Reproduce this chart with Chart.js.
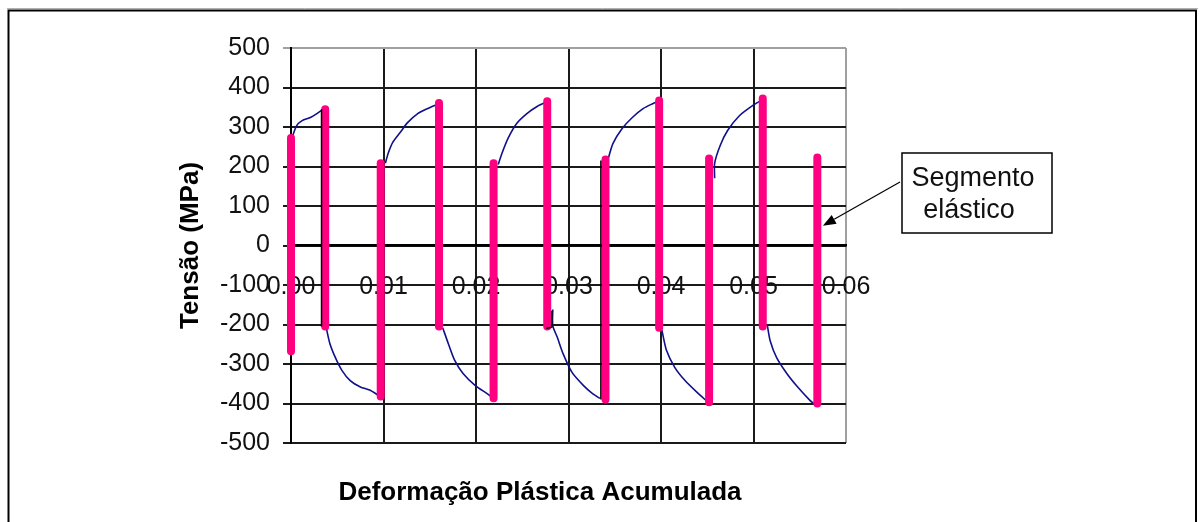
<!DOCTYPE html>
<html>
<head>
<meta charset="utf-8">
<script src="https://cdn.jsdelivr.net/npm/chart.js@4/dist/chart.umd.min.js"></script>
<style>
  html, body { margin: 0; padding: 0; background: #fff; }
  canvas { display: block; }
</style>
</head>
<body>
<canvas id="c" width="1204" height="522"></canvas>
<script>
// Elastic segments (unloading / reloading): strain, upper and lower stress in MPa
const elasticStrain = [0.0000, 0.0037, 0.0097, 0.0160, 0.0219, 0.0277, 0.0340, 0.0398, 0.0452, 0.0510, 0.0569];
const elasticTop    = [272, 345, 208, 361, 208, 365, 218, 367, 220, 372, 223];
const elasticBottom = [-268, -205, -382, -205, -387, -205, -390, -208, -397, -205, -400];

// Plastic branches, one list per half-cycle (tension, compression, ...)
const plasticStrain = [
  [0.0001, 0.0006, 0.0012, 0.0021, 0.0028, 0.0035],
  [0.0038, 0.0042, 0.0048, 0.0055, 0.0064, 0.0075, 0.0085, 0.0095],
  [0.0102, 0.0105, 0.0110, 0.0118, 0.0126, 0.0137, 0.0148, 0.0159],
  [0.0164, 0.0170, 0.0177, 0.0186, 0.0199, 0.0212, 0.0218],
  [0.0224, 0.0228, 0.0235, 0.0244, 0.0255, 0.0266, 0.0275],
  [0.0283, 0.0283, 0.0288, 0.0294, 0.0304, 0.0316, 0.0326, 0.0334],
  [0.0343, 0.0348, 0.0358, 0.0369, 0.0381, 0.0391, 0.0397],
  [0.0400, 0.0401, 0.0406, 0.0415, 0.0426, 0.0439, 0.0450],
  [0.0458, 0.0458, 0.0464, 0.0472, 0.0485, 0.0499, 0.0509],
  [0.0515, 0.0518, 0.0525, 0.0536, 0.0548, 0.0561, 0.0565]
];
const plasticStress = [
  [272, 303, 316, 324, 334, 345],
  [-207, -248, -284, -316, -342, -358, -366, -380],
  [208, 233, 261, 286, 311, 334, 347, 358],
  [-208, -248, -291, -324, -354, -375, -385],
  [205, 233, 273, 309, 334, 352, 362],
  [-162, -203, -233, -273, -322, -354, -375, -387],
  [220, 258, 296, 324, 347, 359, 365],
  [-207, -215, -266, -309, -342, -372, -395],
  [170, 208, 253, 291, 329, 354, 368],
  [-203, -241, -284, -324, -359, -392, -400]
];

// Thin black reversal traces beside some elastic segments
const reversalStrain = [[0.0033, 0.0033], [0.0282, 0.0282, 0.0276], [0.0335, 0.0335]];
const reversalStress = [[345, -205], [-165, -207, -210], [215, -390]];

const xTickLabels = ['0.00', '0.01', '0.02', '0.03', '0.04', '0.05', '0.06'];
const yTickLabels = ['-500', '-400', '-300', '-200', '-100', '0', '100', '200', '300', '400', '500'];

// Callout target (strain, stress) and its text
const calloutStrain = 0.0575;
const calloutStress = 50;
const calloutLines = ['Segmento', 'elástico'];

const FONT = '"Liberation Sans", Arial, sans-serif';

// Join several polylines into one dataset, broken by empty points
function joinSegments(xsList, ysList) {
  const pts = [];
  xsList.forEach((xs, i) => {
    xs.forEach((x, j) => pts.push({ x: x, y: ysList[i][j] }));
    pts.push({ x: xs[xs.length - 1], y: null });
  });
  return pts;
}

const elasticPts = joinSegments(
  elasticStrain.map(x => [x, x]),
  elasticStrain.map((_, i) => [elasticTop[i], elasticBottom[i]])
);
const plasticPts = joinSegments(plasticStrain, plasticStress);
const reversalPts = joinSegments(reversalStrain, reversalStress);

// Page frame
const framePlugin = {
  id: 'frame',
  beforeDraw(chart) {
    const ctx = chart.ctx;
    ctx.save();
    ctx.fillStyle = '#fff';
    ctx.fillRect(0, 0, chart.width, chart.height);
    ctx.strokeStyle = '#b0b0b0';
    ctx.lineWidth = 1;
    ctx.beginPath();
    ctx.moveTo(7, 8.5); ctx.lineTo(1198, 8.5);
    ctx.stroke();
    ctx.strokeStyle = '#000';
    ctx.lineWidth = 2;
    ctx.beginPath();
    ctx.moveTo(8.5, chart.height); ctx.lineTo(8.5, 10.5); ctx.lineTo(1196, 10.5); ctx.lineTo(1196, chart.height);
    ctx.stroke();
    ctx.restore();
  },
  afterLayout(chart) {
    // centre the horizontal axis title under the plot including its value labels
    const t = chart.scales.xTitle;
    t.left = chart.chartArea.left - 57;
  }
};

// Text box with an arrow pointing at the last elastic segment
const calloutPlugin = {
  id: 'callout',
  afterDraw(chart) {
    const ctx = chart.ctx;
    const ca = chart.chartArea;
    const tipX = chart.scales.x.getPixelForValue(calloutStrain);
    const tipY = chart.scales.y.getPixelForValue(calloutStress);
    const bx = ca.right + 56, by = ca.top + 105, bw = 150, bh = 80;
    ctx.save();
    ctx.fillStyle = '#fff';
    ctx.fillRect(bx, by, bw, bh);
    ctx.strokeStyle = '#000';
    ctx.lineWidth = 1.5;
    ctx.strokeRect(bx, by, bw, bh);
    ctx.fillStyle = '#111';
    ctx.font = '27px ' + FONT;
    ctx.textAlign = 'center';
    ctx.textBaseline = 'middle';
    ctx.fillText(calloutLines[0], bx + bw / 2 - 4, by + 26);
    ctx.fillText(calloutLines[1], bx + bw / 2 - 8, by + 58);
    // arrow shaft and head
    const sx = bx - 2, sy = by + 29;
    const ang = Math.atan2(tipY - sy, tipX - sx);
    const hl = 13, hw = 5;
    const baseX = tipX - hl * Math.cos(ang), baseY = tipY - hl * Math.sin(ang);
    ctx.strokeStyle = '#000';
    ctx.lineWidth = 1.2;
    ctx.beginPath();
    ctx.moveTo(sx, sy); ctx.lineTo(baseX, baseY);
    ctx.stroke();
    ctx.fillStyle = '#000';
    ctx.beginPath();
    ctx.moveTo(tipX, tipY);
    ctx.lineTo(baseX + hw * Math.sin(ang), baseY - hw * Math.cos(ang));
    ctx.lineTo(baseX - hw * Math.sin(ang), baseY + hw * Math.cos(ang));
    ctx.closePath();
    ctx.fill();
    ctx.restore();
  }
};

const GRID = '#1a1a1a';
const EDGE = '#a0a0a0';

new Chart(document.getElementById('c'), {
  type: 'scatter',
  data: {
    datasets: [
      {
        label: 'reversão',
        data: reversalPts,
        showLine: true, spanGaps: false, clip: false,
        borderColor: '#000', borderWidth: 1.5,
        pointRadius: 0, order: 0,
        xAxisID: 'x', yAxisID: 'y'
      },
      {
        label: 'elástico',
        data: elasticPts,
        showLine: true, spanGaps: false, clip: false,
        borderColor: '#ff0080', borderWidth: 8,
        borderCapStyle: 'round',
        pointRadius: 0, order: 1,
        xAxisID: 'x', yAxisID: 'y'
      },
      {
        label: 'plástico',
        data: plasticPts,
        showLine: true, spanGaps: false, clip: false,
        borderColor: '#10108a', borderWidth: 1.6,
        tension: 0.25,
        pointRadius: 0, order: 2,
        xAxisID: 'x', yAxisID: 'y'
      }
    ]
  },
  options: {
    responsive: false,
    animation: false,
    devicePixelRatio: 1,
    layout: { padding: { left: 170, right: 358, top: 48, bottom: 0 } },
    plugins: { legend: { display: false }, tooltip: { enabled: false }, title: { display: false } },
    scales: {
      x: {
        type: 'linear',
        position: { y: 0 },
        min: 0, max: 0.06,
        ticks: {
          stepSize: 0.01, padding: 27, color: '#111', autoSkip: false, maxRotation: 0,
          font: { family: FONT, size: 25, lineHeight: 1.2 },
          callback: (v, i) => xTickLabels[i]
        },
        grid: {
          drawTicks: false, lineWidth: 2,
          color: (c) => (c.index === xTickLabels.length - 1 ? EDGE : GRID)
        },
        border: { display: true, color: '#000', width: 2.5 }
      },
      y: {
        type: 'linear',
        position: 'left',
        min: -500, max: 500,
        afterFit: (s) => { s.width = 121; },
        ticks: {
          stepSize: 100, padding: 13, color: '#111',
          font: { family: FONT, size: 25, lineHeight: 1.2 },
          callback: (v, i) => yTickLabels[i]
        },
        grid: {
          tickLength: 8, lineWidth: 2,
          color: (c) => (c.tick && c.tick.value === 500 ? EDGE : GRID)
        },
        border: { color: '#000', width: 2 },
        title: {
          display: true, text: 'Tensão (MPa)', color: '#000',
          font: { family: FONT, size: 26, weight: 'bold', lineHeight: 1.2 },
          padding: { top: 5, bottom: 0 }
        }
      },
      xTitle: {
        type: 'linear',
        position: 'bottom',
        afterFit: (s) => { s.height = 79; },
        ticks: { display: false },
        grid: { display: false },
        border: { display: false },
        title: {
          display: true, text: 'Deformação Plástica Acumulada', color: '#000',
          font: { family: FONT, size: 26, weight: 'bold', lineHeight: 1.2 },
          padding: { top: 0, bottom: 14 }
        }
      }
    }
  },
  plugins: [framePlugin, calloutPlugin]
});
</script>
</body>
</html>
